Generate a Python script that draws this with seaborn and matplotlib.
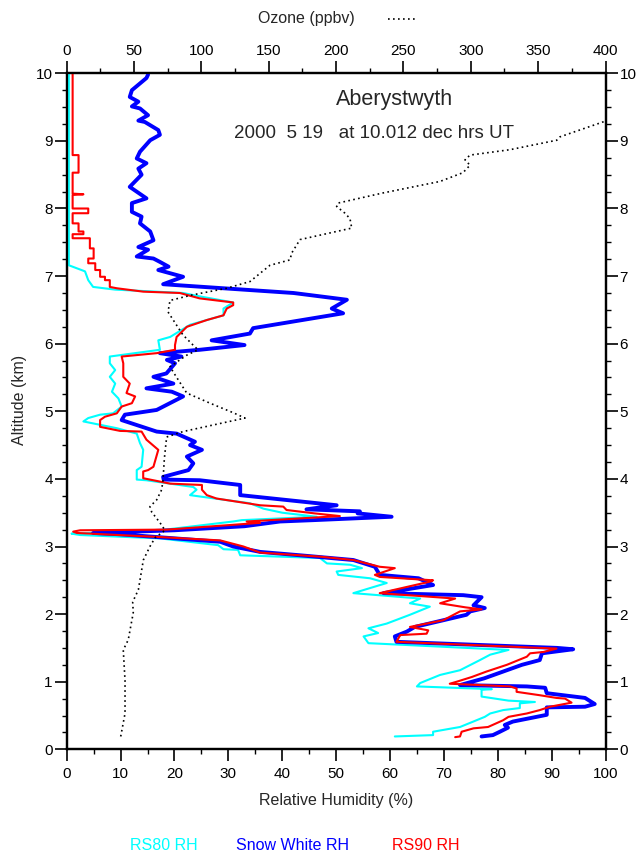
import numpy as np
import pandas as pd
import matplotlib
matplotlib.use("Agg")
import matplotlib.pyplot as plt
import seaborn as sns
from matplotlib.ticker import MultipleLocator
from matplotlib.lines import Line2D

sns.set_theme(style="ticks")
plt.rcParams['font.family'] = ['Liberation Sans', 'DejaVu Sans']

# ---------------- data ----------------
# Snow White RH (blue)
sw_alt = [0.19,0.21,0.26,0.32,0.36,0.41,0.51,0.62,0.63,0.67,0.76,0.83,0.91,0.93,0.95,1.05,1.15,1.25,1.32,1.42,
          1.48,1.50,1.59,1.67,1.74,1.81,1.99,2.04,2.09,2.13,2.25,2.28,2.31,2.43,2.53,2.58,2.70,2.80,2.87,2.92,
          3.00,3.07,3.18,3.20,3.24,3.30,3.37,3.39,3.44,3.49,3.52,3.55,3.61,3.76,3.91,3.98,3.99,4.03,4.13,4.23,
          4.33,4.43,4.50,4.55,4.67,4.70,4.87,4.95,5.02,5.22,5.29,5.34,5.41,5.51,5.56,5.71,5.76,5.81,5.86,5.91,
          5.98,6.05,6.15,6.23,6.45,6.52,6.65,6.75,6.88,6.99,7.09,7.14,7.21,7.26,7.29,7.39,7.43,7.53,7.66,7.78,
          7.88,7.95,8.08,8.15,8.32,8.50,8.59,8.67,8.74,8.84,9.01,9.09,9.16,9.28,9.30,9.38,9.48,9.51,9.58,9.65,
          9.75,9.85,9.93,9.98]
sw_rh = [77.0,79.1,80.4,81.9,81.3,82.8,89.1,89.1,96.2,98.0,96.2,89.1,88.8,85.4,73.0,77.5,81.0,84.5,87.8,88.2,
         94.0,91.0,61.2,60.9,63.1,64.6,74.2,74.9,77.6,75.5,77.0,73.6,58.8,68.0,65.3,58.1,57.2,53.2,43.3,35.9,
         30.9,28.5,10.0,4.9,20.0,33.0,39.6,45.8,60.3,54.0,54.4,44.5,50.1,32.2,32.2,24.7,18.0,17.9,22.6,23.5,
         22.3,25.1,22.9,23.8,20.4,16.7,10.2,10.8,16.7,21.6,19.5,14.8,19.8,16.1,18.5,20.1,18.6,21.3,17.3,24.7,
         33.0,26.9,34.0,34.6,51.3,49.2,52.0,42.1,17.9,21.6,17.0,18.9,17.3,16.1,13.0,15.1,13.3,16.1,15.5,13.6,
         13.9,12.1,12.1,14.8,11.7,13.9,13.3,14.8,13.0,13.6,15.5,17.3,17.0,14.5,13.3,15.1,13.6,12.1,13.3,11.7,
         12.1,13.6,14.8,15.1]

# RS90 RH (red)
rs90_alt = [0.18,0.19,0.26,0.31,0.33,0.43,0.48,0.53,0.58,0.63,0.69,0.75,0.76,0.80,0.85,0.90,0.93,0.97,1.00,1.07,
            1.15,1.25,1.37,1.42,1.44,1.49,1.59,1.69,1.71,1.76,1.81,1.91,2.04,2.07,2.10,2.16,2.23,2.31,2.48,2.50,
            2.55,2.58,2.68,2.70,2.80,2.85,2.91,3.00,3.09,3.14,3.20,3.22,3.24,3.25,3.35,3.37,3.45,3.49,3.54,3.59,
            3.61,3.71,3.76,3.84,3.91,3.93,4.01,4.11,4.13,4.18,4.43,4.58,4.70,4.71,4.77,4.87,4.92,4.97,5.07,5.12,
            5.22,5.27,5.41,5.51,5.71,5.81,5.86,5.91,5.98,6.10,6.25,6.35,6.42,6.52,6.57,6.61,6.67,6.75,6.77,6.82,
            6.84,6.94,6.94,6.99,6.99,7.09,7.09,7.19,7.19,7.26,7.26,7.41,7.41,7.56,7.56,7.62,7.62,7.66,7.66,7.78,
            7.78,7.93,7.93,8.00,8.00,8.20,8.21,8.22,8.53,8.53,8.79,8.79,10.0]
rs90_rh = [72.1,73.0,73.3,75.5,78.2,81.0,82.0,85.4,87.8,89.7,93.7,92.5,90.9,87.8,83.5,83.5,82.3,71.1,72.4,75.2,
           77.9,81.7,85.4,86.0,88.5,90.9,61.2,61.9,66.8,67.1,63.7,69.9,73.0,77.0,74.0,69.3,72.1,58.1,67.4,68.0,
           58.1,57.2,60.9,58.1,53.2,47.0,35.9,32.8,28.5,17.3,1.9,1.2,2.5,18.6,35.9,33.4,50.7,46.0,40.8,40.2,
           35.9,27.8,26.0,25.1,25.1,19.2,14.2,14.2,15.1,16.1,17.0,14.8,13.9,9.9,6.2,6.2,7.1,9.3,10.2,12.1,
           12.7,11.1,11.7,10.5,10.5,10.2,16.7,20.1,20.1,20.4,22.3,26.0,29.1,29.7,30.9,30.9,24.7,21.0,14.2,9.3,
           8.0,8.0,7.1,7.1,6.2,6.2,5.3,5.3,4.0,4.0,5.0,5.0,4.3,4.3,1.1,1.1,3.1,3.1,2.2,2.2,
           1.1,1.1,4.0,4.0,1.1,1.1,3.1,1.1,1.1,2.2,2.2,1.1,1.1]

# RS80 RH (cyan)
rs80_alt = [0.19,0.21,0.26,0.33,0.48,0.53,0.58,0.61,0.68,0.70,0.72,0.78,0.88,0.89,0.93,0.98,1.10,1.17,1.32,1.40,
            1.47,1.57,1.67,1.72,1.79,1.86,1.99,2.11,2.16,2.23,2.31,2.46,2.53,2.58,2.63,2.68,2.73,2.75,2.83,2.87,
            2.95,2.96,3.02,3.12,3.17,3.19,3.24,3.37,3.39,3.44,3.50,3.56,3.64,3.74,3.76,3.84,3.88,3.98,3.99,4.13,
            4.18,4.43,4.53,4.67,4.75,4.80,4.85,4.90,4.95,4.97,5.07,5.19,5.29,5.41,5.51,5.61,5.71,5.81,5.91,6.05,
            6.10,6.28,6.42,6.52,6.61,6.70,6.75,6.80,6.84,6.94,7.07,7.16,7.19,10.0]
rs80_rh = [60.9,68.0,68.0,73.0,77.6,78.6,81.0,84.1,84.1,86.9,82.0,77.0,77.0,78.9,65.0,65.6,69.3,73.0,76.7,78.6,
           82.0,56.0,55.1,57.8,56.0,59.4,63.7,67.4,63.7,65.6,53.2,59.4,56.3,50.4,50.1,54.8,52.6,48.3,47.0,32.2,
           31.8,29.1,28.1,17.3,2.5,0.9,17.3,30.9,32.5,46.4,40.0,36.5,34.0,24.7,22.9,24.1,23.5,14.8,13.0,13.0,
           13.9,14.2,13.6,13.0,9.3,6.2,3.1,4.0,6.2,8.6,10.2,9.6,8.4,9.0,8.0,9.0,8.0,8.0,17.3,17.0,
           19.2,22.9,29.1,29.1,30.9,24.7,21.6,9.0,4.9,4.0,3.4,0.4,0.4,0.4]

# Ozone (ppbv, dotted black, top axis)
oz_alt = [0.19,0.53,1.02,1.47,1.62,2.02,2.18,2.36,2.80,3.00,3.13,3.24,3.35,3.51,3.59,3.69,3.84,3.98,4.30,4.62,
          4.70,4.90,4.98,5.12,5.27,5.54,5.66,5.83,5.91,5.98,6.13,6.31,6.47,6.64,6.72,6.82,6.92,7.16,7.24,7.34,
          7.54,7.71,7.85,7.93,8.03,8.08,8.23,8.40,8.53,8.64,8.72,8.79,8.87,9.01,9.06,9.28,9.32]
oz_val = [40.1,43.3,43.3,42.0,45.7,49.4,49.0,53.2,56.9,61.8,65.6,73.0,69.3,63.1,61.8,66.8,70.5,71.5,72.5,74.2,
          86.3,132.4,123.5,106.4,89.1,80.4,76.7,89.1,97.5,93.8,86.3,80.4,75.2,76.7,92.8,118.8,136.1,150.9,165.8,167.0,
          173.2,211.6,210.3,206.6,200.4,201.4,234.8,277.1,294.2,299.4,295.7,299.4,329.1,363.8,366.2,398.1,403.0]

series_names = ["RS80 RH", "Snow White RH", "RS90 RH"]
series_colors = ["#00FFFF", "#0000FF", "#FF0000"]

# ---------------- figure ----------------
W, H = 640, 852
fig = plt.figure(figsize=(W / 100, H / 100), dpi=100)
x0, x1, ytop, ybot = 66.7, 605.5, 73.3, 749.3
ax = fig.add_axes([x0 / W, 1 - ybot / H, (x1 - x0) / W, (ybot - ytop) / H])
ax.set_facecolor("white")


def draw(axis, alt, val, color, lw, **kw):
    df = pd.DataFrame({"alt": alt, "val": val})
    sns.lineplot(data=df, x="val", y="alt", orient="y", sort=False, estimator=None,
                 color=color, linewidth=lw, ax=axis, **kw)


draw(ax, rs80_alt, rs80_rh, series_colors[0], 1.5, zorder=3)
draw(ax, sw_alt, sw_rh, series_colors[1], 2.8, zorder=3)
draw(ax, rs90_alt, rs90_rh, series_colors[2], 1.5, zorder=3)

ax.set_xlim(0, 100)
ax.set_ylim(0, 10)
ax.set_xlabel("")
ax.set_ylabel("")
ax.xaxis.set_major_locator(MultipleLocator(10))
ax.xaxis.set_minor_locator(MultipleLocator(5))
ax.yaxis.set_major_locator(MultipleLocator(1))
ax.yaxis.set_minor_locator(MultipleLocator(0.25))
ax.tick_params(axis="both", which="major", direction="out", length=8.5, width=1.2,
               labelsize=11, colors="black")
ax.tick_params(axis="both", which="minor", direction="out", length=3.5, width=1.0, colors="black")
ax.tick_params(axis="y", which="both", left=True, right=True, labelleft=True, labelright=True, pad=1.5)
ax.tick_params(axis="x", which="both", bottom=True, top=False, pad=4)
for s in ax.spines.values():
    s.set_linewidth(1.6)
    s.set_color("black")

ax2 = ax.twiny()
draw(ax2, oz_alt, oz_val, "black", 1.2, linestyle=(0, (1, 2)))
ax2.set_xlim(0, 400)
ax2.set_ylim(0, 10)
ax2.set_xlabel("")
ax2.set_ylabel("")
ax2.xaxis.set_major_locator(MultipleLocator(50))
ax2.xaxis.set_minor_locator(MultipleLocator(25))
ax2.tick_params(axis="x", which="major", direction="out", length=8.5, width=1.2, labelsize=11,
                colors="black", top=True, bottom=False, labeltop=True, labelbottom=False, pad=2.5)
ax2.tick_params(axis="x", which="minor", direction="out", length=3.5, width=1.0, colors="black",
                top=True, bottom=False)
for s in ax2.spines.values():
    s.set_linewidth(1.6)
    s.set_color("black")

# ---------------- texts ----------------
fig.text(306 / W, 1 - 19 / H, "Ozone (ppbv)", ha="center", va="center", fontsize=11.5)
fig.add_artist(Line2D([388 / W, 415 / W], [1 - 19 / H, 1 - 19 / H], transform=fig.transFigure,
                      color="black", lw=1.2, linestyle=(0, (1, 2))))
fig.text(336 / W, 1 - 800 / H, "Relative Humidity (%)", ha="center", va="center", fontsize=11.5)
fig.text(20 / W, 1 - 400 / H, "Altitude (km)", ha="center", va="center", rotation=90, fontsize=11.5)
fig.text(395 / W, 1 - 100 / H, "Aberystwyth", ha="center", va="center", fontsize=15.5)
fig.text(234 / W, 1 - 133 / H, "2000  5 19   at 10.012 dec hrs UT", ha="left", va="center", fontsize=13.5)

leg_x = [164, 292, 426]
for name, col, lx in zip(series_names, series_colors, leg_x):
    fig.text(lx / W, 1 - 845 / H, name, ha="center", va="center", fontsize=11.5, color=col)

fig.savefig("out.png", dpi=100, facecolor="white")
